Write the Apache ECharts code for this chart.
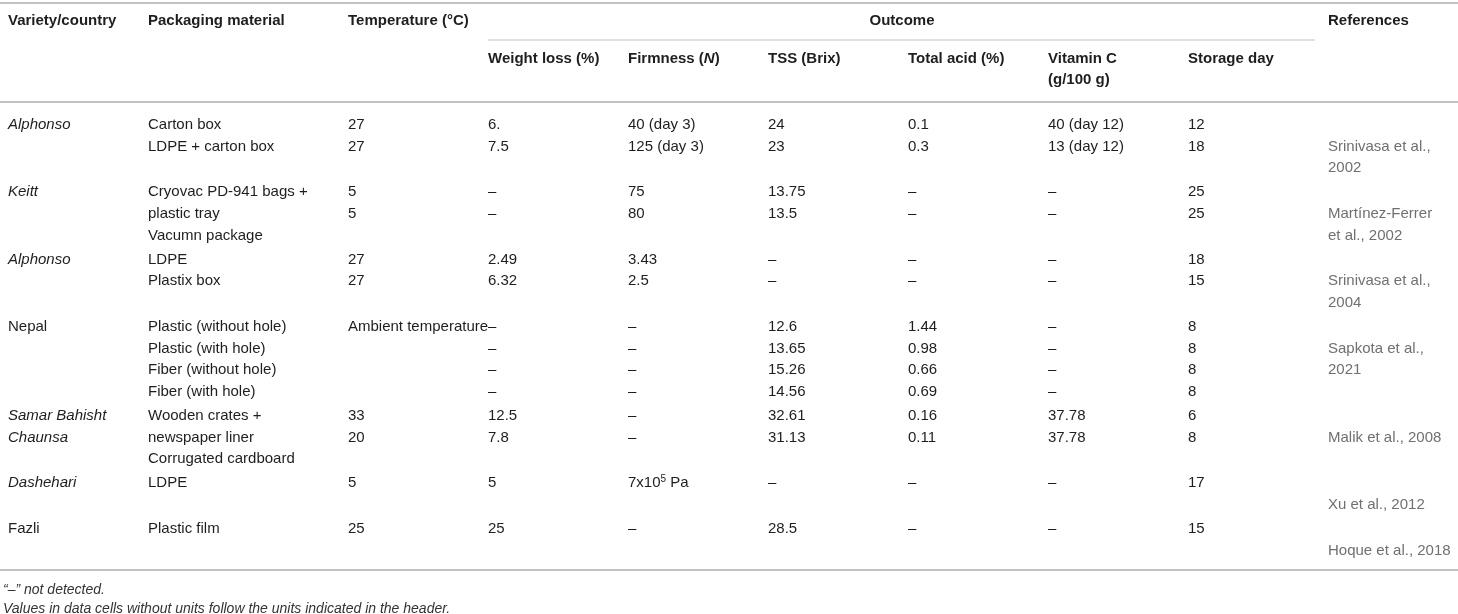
<!DOCTYPE html>
<html>
<head>
<meta charset="utf-8">
<script src="https://cdn.jsdelivr.net/npm/echarts@6.0.0/dist/echarts.min.js"></script>
<style>
  html, body { margin: 0; padding: 0; background: #fff; }
  #main { width: 1458px; height: 614px; }
</style>
</head>
<body>
<div id="main"></div>
<script>
// one entry per printed line of the table body ('' = empty cell)
var variety = ['Alphonso', '', '', 'Keitt', '', '', 'Alphonso', '', '', 'Nepal', '', '', '',
  'Samar Bahisht', 'Chaunsa', '', 'Dashehari', '', 'Fazli', '']
var packaging = ['Carton box', 'LDPE + carton box', '', 'Cryovac PD-941 bags +', 'plastic tray', 'Vacumn package',
  'LDPE', 'Plastix box', '', 'Plastic (without hole)', 'Plastic (with hole)', 'Fiber (without hole)', 'Fiber (with hole)',
  'Wooden crates +', 'newspaper liner', 'Corrugated cardboard', 'LDPE', '', 'Plastic film', '']
var temperature = ['27', '27', '', '5', '5', '', '27', '27', '', 'Ambient temperature', '', '', '',
  '33', '20', '', '5', '', '25', '']
var weightLoss = ['6.', '7.5', '', '–', '–', '', '2.49', '6.32', '', '–', '–', '–', '–',
  '12.5', '7.8', '', '5', '', '25', '']
var firmness = ['40 (day 3)', '125 (day 3)', '', '75', '80', '', '3.43', '2.5', '', '–', '–', '–', '–',
  '–', '–', '', '7x10^5 Pa', '', '–', '']
var tss = ['24', '23', '', '13.75', '13.5', '', '–', '–', '', '12.6', '13.65', '15.26', '14.56',
  '32.61', '31.13', '', '–', '', '28.5', '']
var totalAcid = ['0.1', '0.3', '', '–', '–', '', '–', '–', '', '1.44', '0.98', '0.66', '0.69',
  '0.16', '0.11', '', '–', '', '–', '']
var vitaminC = ['40 (day 12)', '13 (day 12)', '', '–', '–', '', '–', '–', '', '–', '–', '–', '–',
  '37.78', '37.78', '', '–', '', '–', '']
var storageDay = ['12', '18', '', '25', '25', '', '18', '15', '', '8', '8', '8', '8',
  '6', '8', '', '17', '', '15', '']
var references = ['', 'Srinivasa et al.,', '2002', '', 'Martínez-Ferrer', 'et al., 2002', '', 'Srinivasa et al.,', '2004',
  '', 'Sapkota et al.,', '2021', '', '', 'Malik et al., 2008', '', '', 'Xu et al., 2012', '', 'Hoque et al., 2018']
// study group each line belongs to
var lineGroup = [0, 0, 0, 1, 1, 1, 2, 2, 2, 3, 3, 3, 3, 4, 4, 4, 5, 5, 6, 6]
var italicVarieties = ['Alphonso', 'Keitt', 'Samar Bahisht', 'Chaunsa', 'Dashehari']

var headers = ['Variety/country', 'Packaging material', 'Temperature (°C)']
var outcomeHeaders = ['Weight loss (%)', 'Firmness ({i|N})', 'TSS (Brix)', 'Total acid (%)', 'Vitamin C\n(g/100 g)', 'Storage day']
var footnotes = ['“–” not detected.', 'Values in data cells without units follow the units indicated in the header.']

var FONT = '"Liberation Sans", Arial, Helvetica, sans-serif'
var SIZE = 15
var colX = [8, 148, 348, 488, 628, 768, 908, 1048, 1188, 1328]
var lineColor = '#c2c2c2'

function lineY (i) {
  return 125 + 21.6 * i + 2.5 * lineGroup[i]
}

function txt (x, y, text, opt) {
  opt = opt || {}
  return {
    type: 'text',
    silent: true,
    style: {
      x: x,
      y: y,
      text: text,
      fontFamily: FONT,
      fontSize: opt.size || SIZE,
      fontWeight: opt.bold ? 'bold' : 'normal',
      fontStyle: opt.italic ? 'italic' : 'normal',
      fill: opt.color || '#1e1e1e',
      align: opt.align || 'left',
      verticalAlign: 'middle',
      lineHeight: 21,
      rich: opt.rich
    }
  }
}

function hline (x1, x2, y, w) {
  return {
    type: 'line',
    silent: true,
    shape: { x1: x1, y1: y, x2: x2, y2: y },
    style: { stroke: lineColor, lineWidth: w || 1.5 }
  }
}

var els = []
// rules
els.push(hline(0, 1458, 3, 2))
els.push(hline(488, 1315, 40, 1.2))
els.push(hline(0, 1458, 102, 2))
els.push(hline(0, 1458, 570, 2))

// header
headers.forEach(function (h, k) {
  els.push(txt(colX[k], 21, h, { bold: true }))
})
els.push(txt(902, 21, 'Outcome', { bold: true, align: 'center' }))
els.push(txt(colX[9], 21, 'References', { bold: true }))
var boldRich = {
  i: { fontFamily: FONT, fontSize: SIZE, fontWeight: 'bold', fontStyle: 'italic', fill: '#1e1e1e' }
}
outcomeHeaders.forEach(function (h, k) {
  var y = h.indexOf('\n') >= 0 ? 69.5 : 59
  els.push(txt(colX[3 + k], y, h, { bold: true, rich: boldRich }))
})

// body
var supRich = {
  s: { fontFamily: FONT, fontSize: 10, fill: '#1e1e1e', padding: [0, 0, 8, 0] },
  n: { fontFamily: FONT, fontSize: SIZE, fill: '#1e1e1e' }
}
var columns = [variety, packaging, temperature, weightLoss, firmness, tss, totalAcid, vitaminC, storageDay]
columns.forEach(function (col, c) {
  col.forEach(function (v, i) {
    if (!v) return
    var y = lineY(i)
    if (v.indexOf('^') >= 0) {
      var parts = v.split('^')
      var m = parts[1].match(/^(\S+)(.*)$/)
      els.push(txt(colX[c], y, '{n|' + parts[0] + '}{s|' + m[1] + '}{n|' + m[2] + '}', { rich: supRich }))
      return
    }
    els.push(txt(colX[c], y, v, { italic: c === 0 && italicVarieties.indexOf(v) >= 0 }))
  })
})
references.forEach(function (v, i) {
  if (v) els.push(txt(colX[9], lineY(i), v, { color: '#707070' }))
})

// footnotes
footnotes.forEach(function (f, k) {
  els.push(txt(3, 590 + 19 * k, f, { italic: true, size: 14, color: '#333' }))
})

var chart = echarts.init(document.getElementById('main'), null, { renderer: 'canvas' })
chart.setOption({
  backgroundColor: '#ffffff',
  animation: false,
  graphic: { elements: els }
})
window.addEventListener('resize', function () {
  chart.resize()
})
</script>
</body>
</html>
